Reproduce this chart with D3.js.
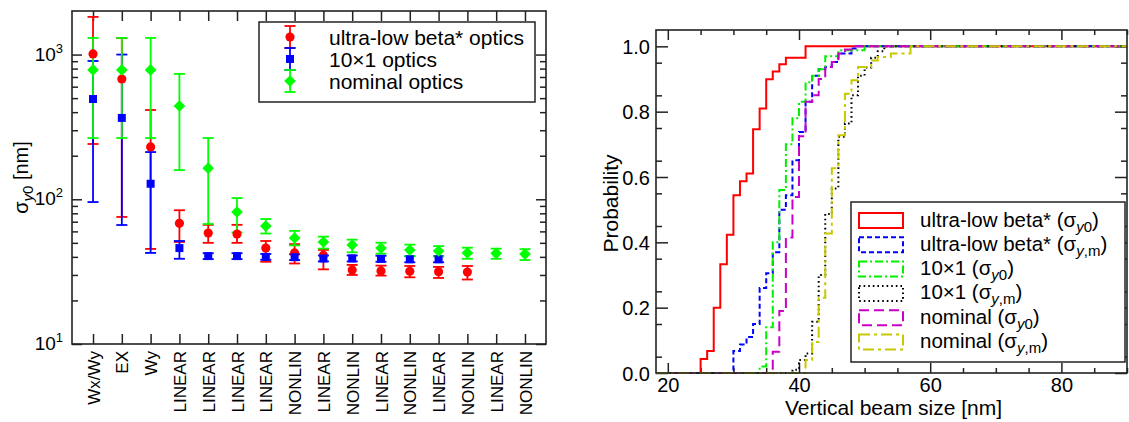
<!DOCTYPE html>
<html>
<head>
<meta charset="utf-8">
<script src="https://cdn.jsdelivr.net/npm/d3@7"></script>
<style>
  body { margin: 0; background: #fff; }
  svg { display: block; font-family: "Liberation Sans", Arial, Helvetica, sans-serif; }
</style>
</head>
<body>
<svg id="chart" width="1129" height="422"></svg>
<script>
// ---------- data: left panel (sigma_y0 per reconstruction method) ----------
const methods = ["Wx/Wy", "EX", "Wy", "LINEAR", "LINEAR", "LINEAR", "LINEAR", "NONLIN",
                 "LINEAR", "NONLIN", "LINEAR", "NONLIN", "LINEAR", "NONLIN", "LINEAR", "NONLIN"];

// [value, low, high] in nm, null = no measurement
const ultraLowBeta = [[1010, 241, 1820], [678, 75.5, 1300], [230, 45.4, 414], [68.2, 50.7, 84],
  [58.5, 50, 66.6], [57.5, 50, 66.6], [46, 37, 51.5], [42.6, 36, 49], [41, 32.8, 44.7],
  [32.5, 30, 35.2], [32, 29.7, 34.8], [31.8, 28.9, 34.6], [31.6, 28.6, 34.1], [31.4, 27.9, 34.6],
  null, null];
const tenByOne = [[493, 95.7, 903], [365, 66.4, 1000], [128, 42.6, 212], [46, 38.8, 51.5],
  [40.5, 38.6, 42.4], [40.5, 38.6, 42.4], [40, 38.2, 41.9], [39.8, 38, 41.7], [39, 37.2, 40.9],
  [39, 37.2, 40.9], [38.8, 37, 40.7], [38.5, 36.7, 40.4], [38.5, 36.7, 40.4], null, null, null];
const nominal = [[783, 265, 1303], [783, 265, 1303], [783, 265, 1303], [441, 159, 735],
  [164, 67.5, 265], [81.7, 59, 102], [65.3, 58, 73], [54, 48, 60.5], [50.7, 45.6, 55.2],
  [48.3, 43, 52.6], [46, 42.1, 50.1], [44.6, 40.5, 48.6], [43.9, 40.3, 47.5], [42.6, 38.8, 46.3],
  [42.3, 38.8, 45.6], [41.8, 38, 45.2]];
const leftNames = ["ultra-low beta* optics", "10\u00d71 optics", "nominal optics"];

// ---------- data: right panel (cumulative distributions) ----------
// [beam size nm, cumulative probability] at each step
const cdfUltraY0 = [[25, 0.043], [26, 0.067], [27, 0.2], [28, 0.333], [29, 0.423], [30, 0.544],
  [31, 0.587], [32, 0.611], [33, 0.746], [34, 0.81], [35, 0.899], [36, 0.923], [37, 0.945],
  [38, 0.965], [41, 1.0]];
const cdfUltraYm = [[30, 0.067], [31, 0.087], [32, 0.11], [33, 0.15], [34, 0.26], [35, 0.305],
  [36, 0.37], [37, 0.5], [38, 0.544], [39, 0.651], [40, 0.738], [41, 0.83], [42, 0.91],
  [43, 0.93], [44, 0.937], [45, 0.952], [46, 0.978], [48, 0.993], [49, 1.0]];
const cdfTenY0 = [[34, 0.02], [35, 0.14], [36, 0.4], [37, 0.56], [38, 0.7], [39, 0.78],
  [40, 0.83], [41, 0.89], [42, 0.91], [43, 0.93], [44, 0.97], [46, 0.988], [50, 1.0]];
const cdfTenYm = [[39, 0.01], [40, 0.04], [41, 0.06], [42, 0.157], [43, 0.3], [44, 0.487],
  [45, 0.565], [46, 0.723], [47, 0.764], [48, 0.85], [49, 0.91], [50, 0.935], [51, 0.965],
  [52, 0.985], [53, 1.0]];
const cdfNomY0 = [[36, 0.065], [37, 0.19], [38, 0.415], [39, 0.539], [40, 0.725], [41, 0.83],
  [42, 0.85], [43, 0.9], [44, 0.937], [45, 0.952], [46, 0.978], [47, 0.99], [48, 1.0]];
const cdfNomYm = [[41, 0.04], [42, 0.095], [43, 0.23], [44, 0.427], [45, 0.627], [46, 0.728],
  [47, 0.855], [48, 0.896], [49, 0.937], [51, 0.957], [52, 0.967], [54, 0.978], [57, 1.0]];
const cdfNames = ["ultra-low beta*", "ultra-low beta*", "10\u00d71", "10\u00d71", "nominal", "nominal"];
const cdfSubs = ["0", ",m", "0", ",m", "0", ",m"];

const svg = d3.select("#chart");
const frameColor = "#222";

// ================= LEFT PANEL =================
const L = {x0: 72, x1: 546, y0: 11, y1: 344};
const x = d3.scaleLinear().domain([0.27, 16.73]).range([L.x0, L.x1]);
const y = d3.scaleLog().domain([10, 2000]).range([L.y1, L.y0]);

const left = svg.append("g");
const majorL = [10, 100, 1000];
const minorL = [];
[10, 100, 1000].forEach(d => { for (let k = 2; k <= 9; k++) if (d * k < 2000) minorL.push(d * k); });

function cleanAxis(g) {
  g.select(".domain").remove();
  g.selectAll("line").attr("stroke", frameColor).attr("stroke-width", 1.5);
  g.attr("font-family", null).attr("font-size", null);
}

left.append("g").attr("transform", `translate(${L.x0},0)`)
  .call(d3.axisLeft(y).tickValues(majorL).tickSize(-10).tickFormat("")).call(cleanAxis);
left.append("g").attr("transform", `translate(${L.x0},0)`)
  .call(d3.axisLeft(y).tickValues(minorL).tickSize(-6).tickFormat("")).call(cleanAxis);
left.append("g").attr("transform", `translate(${L.x1},0)`)
  .call(d3.axisRight(y).tickValues(majorL).tickSize(-10).tickFormat("")).call(cleanAxis);
left.append("g").attr("transform", `translate(${L.x1},0)`)
  .call(d3.axisRight(y).tickValues(minorL).tickSize(-6).tickFormat("")).call(cleanAxis);
left.append("g").attr("transform", `translate(0,${L.y0})`)
  .call(d3.axisTop(x).tickValues(d3.range(1, 17)).tickSize(-10).tickFormat("")).call(cleanAxis);

const xAxisL = left.append("g").attr("transform", `translate(0,${L.y1})`)
  .call(d3.axisBottom(x).tickValues(d3.range(1, 17)).tickSize(-10).tickFormat((d, i) => methods[i]))
  .call(cleanAxis);
xAxisL.selectAll("text")
  .attr("transform", "rotate(-90)")
  .attr("x", -7).attr("y", 0).attr("dy", "0.36em")
  .attr("text-anchor", "end")
  .attr("font-size", 17).attr("fill", "#000");

// decade labels 10^n
majorL.forEach(v => {
  const t = left.append("text").attr("x", L.x0 - 9).attr("y", y(v) + 6)
    .attr("text-anchor", "end").attr("font-size", 19);
  t.append("tspan").text("10");
  t.append("tspan").attr("dy", -8).attr("font-size", 13).text(Math.round(Math.log10(v)));
});

// y label: sigma_y0 [nm]
const yl = left.append("text")
  .attr("transform", `translate(28,${(L.y0 + L.y1) / 2}) rotate(-90)`)
  .attr("text-anchor", "middle").attr("font-size", 20);
yl.append("tspan").text("\u03c3");
yl.append("tspan").attr("dy", 5).attr("font-size", 15).attr("font-style", "italic").text("y");
yl.append("tspan").attr("font-size", 15).text("0");
yl.append("tspan").attr("dy", -5).text(" [nm]");

left.append("rect").attr("x", L.x0).attr("y", L.y0)
  .attr("width", L.x1 - L.x0).attr("height", L.y1 - L.y0)
  .attr("fill", "none").attr("stroke", frameColor).attr("stroke-width", 1.6);

const leftSeries = [ultraLowBeta, tenByOne, nominal];
const leftColors = ["#ff0000", "#0000ff", "#00ff00"];
const symCircle = d3.symbol(d3.symbolCircle, 66);
const symSquare = d3.symbol(d3.symbolSquare, 64);
const symDiamond = d3.symbol(d3.symbolSquare, 68);
const leftSymbols = [symCircle, symSquare, symDiamond];
const leftRot = [0, 0, 45];

// error bars first, then markers
leftSeries.forEach((s, si) => {
  const pts = s.map((d, i) => d ? {i: i + 1, v: d[0], lo: d[1], hi: d[2]} : null).filter(d => d);
  const g = left.append("g").attr("stroke", leftColors[si]).attr("stroke-width", 1.8);
  g.selectAll("line.bar").data(pts).join("line").attr("class", "bar")
    .attr("x1", d => x(d.i)).attr("x2", d => x(d.i))
    .attr("y1", d => y(d.lo)).attr("y2", d => y(d.hi));
  g.selectAll("line.capHi").data(pts).join("line").attr("class", "capHi")
    .attr("x1", d => x(d.i) - 5.5).attr("x2", d => x(d.i) + 5.5)
    .attr("y1", d => y(d.hi)).attr("y2", d => y(d.hi));
  g.selectAll("line.capLo").data(pts).join("line").attr("class", "capLo")
    .attr("x1", d => x(d.i) - 5.5).attr("x2", d => x(d.i) + 5.5)
    .attr("y1", d => y(d.lo)).attr("y2", d => y(d.lo));
});
leftSeries.forEach((s, si) => {
  const pts = s.map((d, i) => d ? {i: i + 1, v: d[0]} : null).filter(d => d);
  left.append("g").selectAll("path").data(pts).join("path")
    .attr("d", leftSymbols[si])
    .attr("transform", d => `translate(${x(d.i)},${y(d.v)}) rotate(${leftRot[si]})`)
    .attr("fill", leftColors[si]);
});

// left legend
const lg = left.append("g");
lg.append("rect").attr("x", 259).attr("y", 22).attr("width", 276).attr("height", 80)
  .attr("fill", "#fff").attr("stroke", frameColor).attr("stroke-width", 1.5);
leftNames.forEach((name, i) => {
  const cy = 37 + i * 22, cx = 290;
  const g = lg.append("g").attr("stroke", leftColors[i]).attr("stroke-width", 1.8);
  g.append("line").attr("x1", cx).attr("x2", cx).attr("y1", cy - 11).attr("y2", cy + 11);
  g.append("line").attr("x1", cx - 5.5).attr("x2", cx + 5.5).attr("y1", cy - 11).attr("y2", cy - 11);
  g.append("line").attr("x1", cx - 5.5).attr("x2", cx + 5.5).attr("y1", cy + 11).attr("y2", cy + 11);
  lg.append("path").attr("d", leftSymbols[i])
    .attr("transform", `translate(${cx},${cy}) rotate(${leftRot[i]})`).attr("fill", leftColors[i]);
  lg.append("text").attr("x", 329).attr("y", cy + 7.5).attr("font-size", 21).text(name);
});

// ================= RIGHT PANEL =================
const R = {x0: 656, x1: 1127, y0: 30, y1: 373};
const xr = d3.scaleLinear().domain([18.2, 90]).range([R.x0, R.x1]);
const yr = d3.scaleLinear().domain([0, 1.05]).range([R.y1, R.y0]);
const right = svg.append("g");

const xMaj = [20, 40, 60, 80];
const xMin = d3.range(20, 91, 5).filter(v => v % 20 !== 0);
const yMaj = [0, 0.2, 0.4, 0.6, 0.8, 1.0];
const yMin = d3.range(0.05, 1.05, 0.1).map(v => +v.toFixed(2));

right.append("g").attr("transform", `translate(0,${R.y1})`)
  .call(d3.axisBottom(xr).tickValues(xMin).tickSize(-5).tickFormat("")).call(cleanAxis);
right.append("g").attr("transform", `translate(0,${R.y0})`)
  .call(d3.axisTop(xr).tickValues(xMin).tickSize(-5).tickFormat("")).call(cleanAxis);
right.append("g").attr("transform", `translate(0,${R.y0})`)
  .call(d3.axisTop(xr).tickValues(xMaj).tickSize(-10).tickFormat("")).call(cleanAxis);
const xAxisR = right.append("g").attr("transform", `translate(0,${R.y1})`)
  .call(d3.axisBottom(xr).tickValues(xMaj).tickSize(-10).tickFormat(d3.format("d")))
  .call(cleanAxis);
xAxisR.selectAll("text").attr("y", 19).attr("dy", 0).attr("font-size", 20).attr("fill", "#000");

right.append("g").attr("transform", `translate(${R.x0},0)`)
  .call(d3.axisLeft(yr).tickValues(yMin).tickSize(-6).tickFormat("")).call(cleanAxis);
right.append("g").attr("transform", `translate(${R.x1},0)`)
  .call(d3.axisRight(yr).tickValues(yMin).tickSize(-6).tickFormat("")).call(cleanAxis);
right.append("g").attr("transform", `translate(${R.x1},0)`)
  .call(d3.axisRight(yr).tickValues(yMaj).tickSize(-12).tickFormat("")).call(cleanAxis);
const yAxisR = right.append("g").attr("transform", `translate(${R.x0},0)`)
  .call(d3.axisLeft(yr).tickValues(yMaj).tickSize(-12).tickPadding(6).tickFormat(d3.format(".1f")))
  .call(cleanAxis);
yAxisR.selectAll("text").attr("font-size", 20).attr("fill", "#000").attr("dy", "0.36em");

right.append("text").attr("x", (R.x0 + R.x1) / 2 + 2).attr("y", 415)
  .attr("text-anchor", "middle").attr("font-size", 21).text("Vertical beam size [nm]");
right.append("text")
  .attr("transform", `translate(618,${(R.y0 + R.y1) / 2 + 2}) rotate(-90)`)
  .attr("text-anchor", "middle").attr("font-size", 21).text("Probability");

const cdfSeries = [cdfUltraY0, cdfUltraYm, cdfTenY0, cdfTenYm, cdfNomY0, cdfNomYm];
const cdfColors = ["#ff0000", "#0000ff", "#00f000", "#000000", "#c800c8", "#c8c800"];
const cdfDash = [null, "5,3", "8,3,2,3", "1.6,3", "10,5", "11,4,3,4"];

const stepLine = d3.line().x(d => xr(d[0])).y(d => yr(d[1])).curve(d3.curveStepAfter);
cdfSeries.forEach((s, i) => {
  const pts = [[xr.domain()[0], 0]].concat(s).concat([[xr.domain()[1], 1]]);
  right.append("path").datum(pts)
    .attr("d", stepLine)
    .attr("fill", "none")
    .attr("stroke", cdfColors[i])
    .attr("stroke-width", 2)
    .attr("stroke-dasharray", cdfDash[i]);
});

right.append("rect").attr("x", R.x0).attr("y", R.y0)
  .attr("width", R.x1 - R.x0).attr("height", R.y1 - R.y0)
  .attr("fill", "none").attr("stroke", frameColor).attr("stroke-width", 1.6);

// right legend
const rg = right.append("g");
rg.append("rect").attr("x", 851).attr("y", 202).attr("width", 274).attr("height", 160)
  .attr("fill", "#fff").attr("stroke", frameColor).attr("stroke-width", 1.5);
cdfNames.forEach((name, i) => {
  const top = 213 + i * 24.3;
  rg.append("rect").attr("x", 859).attr("y", top).attr("width", 44).attr("height", 15)
    .attr("fill", "none").attr("stroke", cdfColors[i]).attr("stroke-width", 2)
    .attr("stroke-dasharray", cdfDash[i]);
  const t = rg.append("text").attr("x", 920).attr("y", top + 13.5).attr("font-size", 20.5);
  t.append("tspan").text(name + " (\u03c3");
  t.append("tspan").attr("dy", 5).attr("font-size", 15).attr("font-style", "italic").text("y");
  t.append("tspan").attr("font-size", 15).text(cdfSubs[i]);
  t.append("tspan").attr("dy", -5).text(")");
});
</script>
</body>
</html>
